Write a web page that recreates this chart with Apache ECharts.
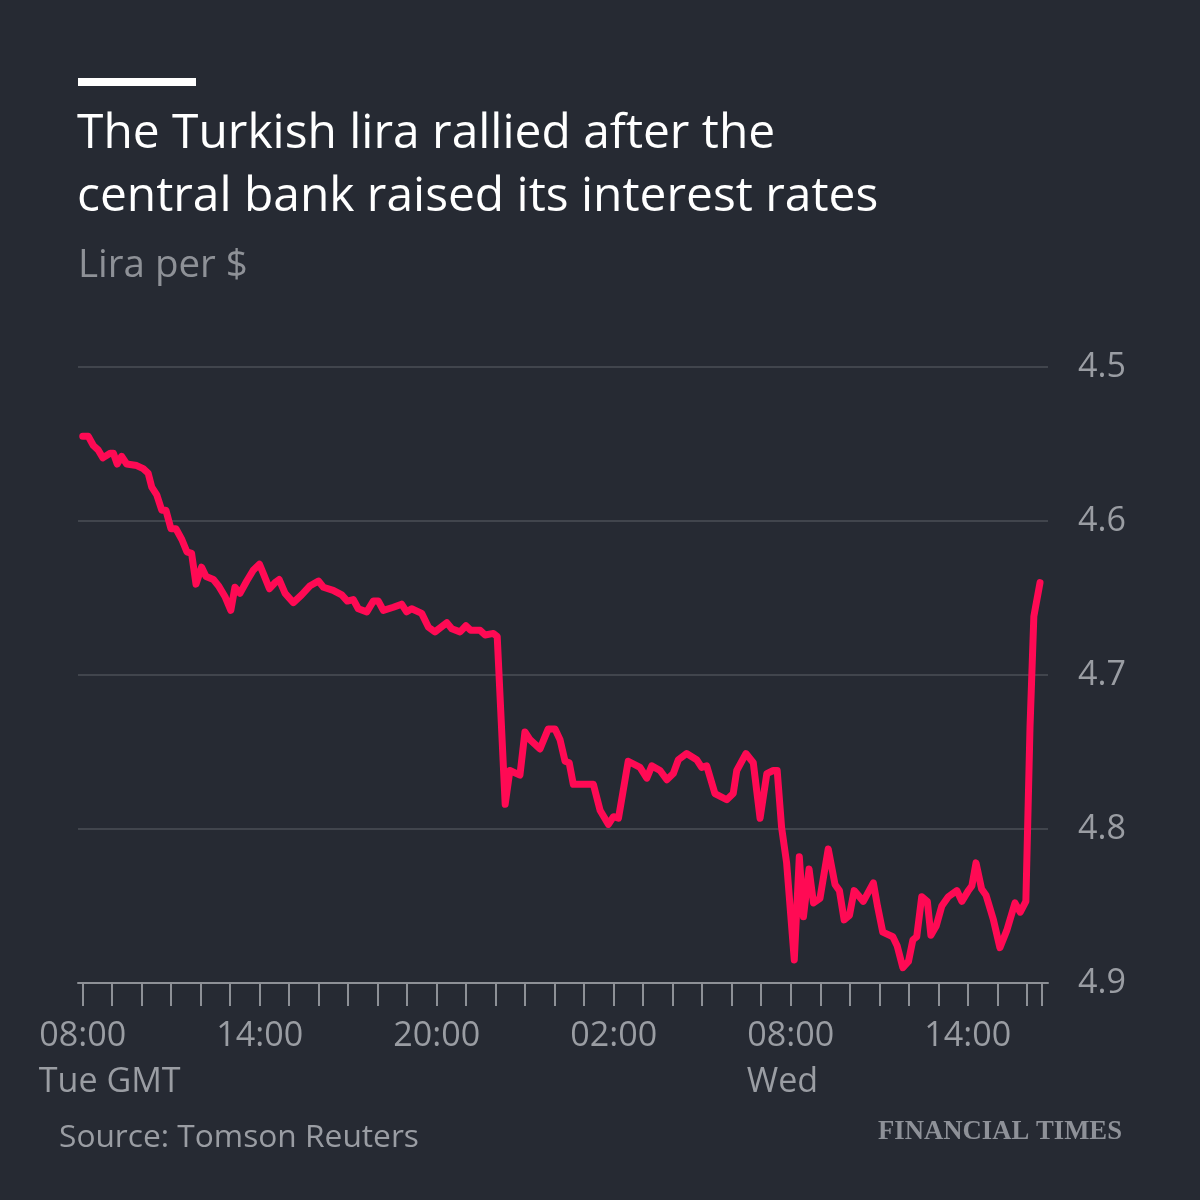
<!DOCTYPE html>
<html><head><meta charset="utf-8">
<script src="https://cdn.jsdelivr.net/npm/echarts@6/dist/echarts.min.js"></script>
<style>html,body{margin:0;padding:0;background:#262a33;}#c{width:1200px;height:1200px;}</style>
</head><body><div id="c"></div>
<script>
// Hours since 08:00 Tue GMT
const hours = [0.00,0.19,0.36,0.53,0.68,0.93,1.04,1.17,1.32,1.49,1.83,2.05,2.22,2.34,2.51,2.68,2.82,2.99,3.16,3.36,3.53,3.69,3.84,4.03,4.18,4.43,4.60,4.82,5.02,5.16,5.33,5.56,5.78,5.99,6.12,6.33,6.52,6.66,6.86,7.14,7.42,7.71,7.99,8.16,8.49,8.78,8.97,9.17,9.34,9.63,9.85,10.02,10.19,10.53,10.81,10.98,11.15,11.49,11.72,11.94,12.34,12.51,12.79,12.99,13.15,13.47,13.64,13.92,14.05,14.32,14.48,14.82,14.99,15.16,15.50,15.78,16.01,16.18,16.35,16.49,16.63,17.03,17.31,17.54,17.82,17.99,18.16,18.49,18.89,19.12,19.29,19.57,19.80,20.02,20.19,20.47,20.81,20.98,21.15,21.43,21.83,22.05,22.17,22.48,22.73,22.96,23.19,23.41,23.54,23.69,23.86,24.12,24.29,24.43,24.62,24.77,24.99,25.27,25.50,25.65,25.81,25.99,26.15,26.46,26.80,26.94,27.12,27.46,27.61,27.80,27.99,28.14,28.27,28.44,28.63,28.75,28.93,29.12,29.34,29.63,29.80,30.02,30.14,30.28,30.47,30.62,30.87,31.09,31.32,31.60,31.78,31.97,32.11,32.24,32.45];
// Lira per $
const lira = [4.545,4.545,4.551,4.554,4.559,4.556,4.556,4.563,4.558,4.563,4.564,4.566,4.569,4.578,4.583,4.593,4.593,4.605,4.605,4.612,4.620,4.621,4.641,4.630,4.636,4.638,4.642,4.649,4.658,4.643,4.647,4.639,4.632,4.628,4.634,4.644,4.640,4.638,4.647,4.653,4.648,4.642,4.639,4.643,4.645,4.648,4.652,4.651,4.657,4.659,4.652,4.652,4.658,4.656,4.654,4.659,4.657,4.660,4.669,4.672,4.666,4.670,4.672,4.668,4.671,4.671,4.674,4.673,4.675,4.784,4.762,4.765,4.737,4.742,4.748,4.735,4.735,4.742,4.756,4.757,4.771,4.771,4.771,4.788,4.797,4.792,4.793,4.756,4.760,4.767,4.759,4.762,4.768,4.764,4.755,4.751,4.755,4.760,4.759,4.777,4.781,4.777,4.762,4.751,4.757,4.793,4.764,4.762,4.762,4.799,4.822,4.885,4.818,4.857,4.826,4.848,4.845,4.813,4.836,4.840,4.859,4.856,4.840,4.847,4.835,4.850,4.867,4.870,4.876,4.890,4.886,4.872,4.870,4.844,4.847,4.869,4.863,4.850,4.844,4.840,4.847,4.840,4.837,4.822,4.839,4.843,4.859,4.877,4.866,4.848,4.854,4.847,4.734,4.662,4.640];
const tickHours = [0,1,2,3,4,5,6,7,8,9,10,11,12,13,14,15,16,17,18,19,20,21,22,23,24,25,26,27,28,29,30,31,32,32.5];
const labelHours = [0,6,12,18,24,30];
const timeLabels = ['08:00','14:00','20:00','02:00','08:00','14:00'];
const dayLabels = {0:'Tue GMT',24:'Wed'};
const yTicks = [4.5,4.6,4.7,4.8,4.9];
const titleText = 'The Turkish lira rallied after the\ncentral bank raised its interest rates';
const subtitleText = 'Lira per $';
const sourceText = 'Source: Tomson Reuters';
const brandText = 'FINANCIAL TIMES';

const FONT = '"Open Sans", sans-serif';
const SERIF = '"Liberation Serif", serif';
const mctx = document.createElement('canvas').getContext('2d');
function fit(text, weight, family, target){ mctx.font = weight + ' 100px ' + family; return Math.round(100 * target / mctx.measureText(text).width * 10) / 10; }
const titleSize = fit('central bank raised its interest rates', 'normal', FONT, 802);
const subSize = fit(subtitleText, 'normal', FONT, 170);
const tickSize = fit('08:00', 'normal', FONT, 87);
const srcSize = fit(sourceText, 'normal', FONT, 360);
const brandSize = fit(brandText, 'bold', SERIF, 244);

const grey = '#9a9da3';
const chart = echarts.init(document.getElementById('c'), null, {renderer:'canvas'});
chart.setOption({
  backgroundColor: '#262a33',
  animation: false,
  graphic: [{type:'rect', left:78, top:78, shape:{width:118, height:8}, style:{fill:'#ffffff'}}],
  title: [
    {text: titleText, left: 77, top: 103, padding: 0, textStyle:{color:'#ffffff', fontFamily: FONT, fontWeight:'normal', fontSize: titleSize, lineHeight: 63}},
    {text: subtitleText, left: 78, top: 246, padding: 0, textStyle:{color:'#8e9197', fontFamily: FONT, fontWeight:'normal', fontSize: subSize, lineHeight: 40}},
    {text: sourceText, left: 59, top: 1118, padding: 0, textStyle:{color: grey, fontFamily: FONT, fontWeight:'normal', fontSize: srcSize, lineHeight: 40}},
    {text: brandText, right: 78, top: 1117, padding: 0, textStyle:{color:'#8e9198', fontFamily: SERIF, fontWeight:'bold', fontSize: brandSize, lineHeight: 30}}
  ],
  grid: {left: 78, right: 152, top: 367, bottom: 217, containLabel: false},
  xAxis: {
    type: 'value', min: -0.16, max: 32.72,
    axisLine: {show: true, lineStyle: {color: '#8d9096', width: 2}},
    axisTick: {show: true, customValues: tickHours, length: 23, lineStyle: {color: '#8d9096', width: 2}},
    splitLine: {show: false},
    axisLabel: {
      customValues: labelHours, margin: 30, color: grey, fontFamily: FONT, fontSize: tickSize,
      formatter: function(v){
        const i = labelHours.indexOf(v);
        const t = '{t|' + timeLabels[i] + '}';
        return dayLabels[v] ? t + '\n{d|' + dayLabels[v] + '}' : t;
      },
      rich: {
        t: {width: 88, align: 'center', fontFamily: FONT, fontSize: tickSize, color: grey, lineHeight: 46},
        d: {width: 88, align: 'left', fontFamily: FONT, fontSize: tickSize, color: grey, lineHeight: 46}
      }
    }
  },
  yAxis: {
    type: 'value', inverse: true, min: yTicks[0], max: yTicks[yTicks.length-1], interval: 0.1, position: 'right',
    axisLine: {show: false}, axisTick: {show: false},
    splitLine: {show: true, lineStyle: {color: '#4b4f57', width: 1.5}},
    axisLabel: {margin: 30, color: grey, fontFamily: FONT, fontSize: tickSize, align: 'left', padding: [6, 0, 0, 0], formatter: v => v.toFixed(1)}
  },
  series: [{
    type: 'line', data: hours.map((h, i) => [h, lira[i]]), showSymbol: false, smooth: false,
    lineStyle: {color: '#ff0a54', width: 7, cap: 'round', join: 'round'}
  }]
});
</script></body></html>
